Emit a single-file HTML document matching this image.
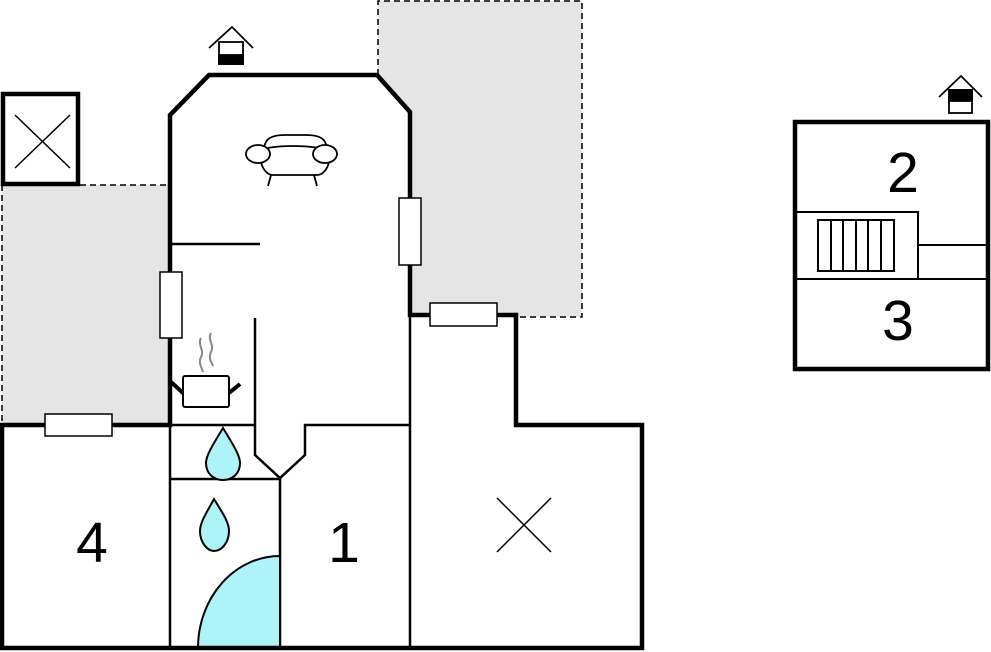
<!DOCTYPE html>
<html><head><style>html,body{margin:0;padding:0;background:#fff}svg{display:block}</style></head>
<body>
<svg width="991" height="652" viewBox="0 0 991 652" xmlns="http://www.w3.org/2000/svg" font-family="Liberation Sans, sans-serif">
<rect x="2" y="185" width="166" height="240" fill="#e5e5e5"/>
<rect x="378" y="1" width="204" height="316" fill="#e5e5e5"/>
<path d="M80 185 H168 M2 185 V425" stroke="#000" stroke-width="1.5" stroke-dasharray="6,4" fill="none"/>
<path d="M378 75 V1 H582 V317 H516" stroke="#000" stroke-width="1.5" stroke-dasharray="6,4" fill="none"/>
<path d="M170 425 V115 L209 75 H377 L410 112 V315 H516 V425 H642 V648 H2 V425 Z" fill="#fff"/>
<g stroke="#000" stroke-width="2.5" fill="none">
<path d="M170 425 V648"/>
<path d="M410 315 V648"/>
<path d="M170 425 H255"/>
<path d="M255 318 V455 L280 478 L305 455 V425 H410"/>
<path d="M280 478 V648"/>
<path d="M170 479 H280"/>
<path d="M172 244 H260"/>
</g>
<path d="M198 647 A82 92 0 0 1 280 556 V647 Z" fill="#aef3f8" stroke="#000" stroke-width="2"/>
<path d="M223 428 C214 443 206 455 206 463 C206 474 214 480 223 480 C232 480 240 474 240 463 C240 455 232 443 223 428 Z" fill="#aef3f8" stroke="#000" stroke-width="2"/>
<path d="M214 499 C207 512 200 522 200 531 C200 542 207 551 214 551 C222 551 229 542 229 531 C229 522 222 512 214 499 Z" fill="#aef3f8" stroke="#000" stroke-width="2"/>
<path d="M170 425 V115 L209 75 H377 L410 112 V315 H516 V425 H642 V648 H2 V425 Z" fill="none" stroke="#000" stroke-width="4.5"/>
<rect x="3" y="94" width="75" height="90" fill="#fff" stroke="#000" stroke-width="4.5"/>
<path d="M15 115 L70 168 M70 115 L15 168" stroke="#000" stroke-width="1.5"/>
<path d="M497 498 L551 552 M551 498 L497 552" stroke="#000" stroke-width="1.5"/>
<g fill="#fff" stroke="#000" stroke-width="1.5">
<rect x="160" y="272" width="22" height="66"/>
<rect x="399" y="198" width="22" height="67"/>
<rect x="430" y="303" width="67" height="23"/>
<rect x="45" y="414" width="67" height="22"/>
</g>
<g stroke="#000" stroke-width="2" fill="#fff">
<path d="M170 381 L183 393" stroke-width="4"/>
<path d="M229 393 L240 384" stroke-width="4"/>
<rect x="183" y="376" width="46" height="31" rx="2"/>
</g>
<path d="M201 338 C197 345 205 350 201 357 C198 363 202 368 203 372 M211 333 C207 340 215 345 211 352 C208 358 212 363 213 366" stroke="#888" stroke-width="2" fill="none"/>
<g stroke="#000" stroke-width="1.8" fill="#fff">
<path d="M263 158 C263 140 268 135 285 135 H306 C323 135 328 140 328 158 Z"/>
<path d="M260 152 C262 144 322 144 330 152 C330 170 322 175 317 175 H273 C268 175 260 170 260 152 Z"/>
<ellipse cx="258" cy="154" rx="12" ry="9"/>
<ellipse cx="325" cy="154" rx="12" ry="9"/>
<path d="M271 175 L268 186 M314 175 L317 186" fill="none"/>
</g>
<g stroke="#000" stroke-width="1.8">
<path d="M209 48 L232 27 L253 48" fill="none"/>
<rect x="219" y="42" width="24" height="22" fill="#fff"/>
<rect x="219" y="55" width="24" height="9" fill="#000"/>
</g>
<g stroke="#000" stroke-width="1.8">
<path d="M939 97 L961 76 L982 97" fill="none"/>
<rect x="949" y="90" width="23" height="23" fill="#fff"/>
<rect x="949" y="90" width="23" height="11" fill="#000"/>
</g>
<rect x="795" y="122" width="193" height="247" fill="#fff" stroke="#000" stroke-width="4.5"/>
<g stroke="#000" stroke-width="2" fill="none">
<rect x="796" y="212" width="122" height="67"/>
<path d="M918 245 H988 M796 279 H988"/>
<rect x="818" y="220" width="76" height="51"/>
<path d="M831 220 V271 M843 220 V271 M856 220 V271 M868 220 V271 M881 220 V271"/>
</g>
<g font-size="57" fill="#000" text-anchor="middle">
<text x="903" y="192">2</text>
<text x="898" y="340">3</text>
<text x="92" y="562">4</text>
<text x="344" y="562">1</text>
</g>
</svg>
</body></html>
